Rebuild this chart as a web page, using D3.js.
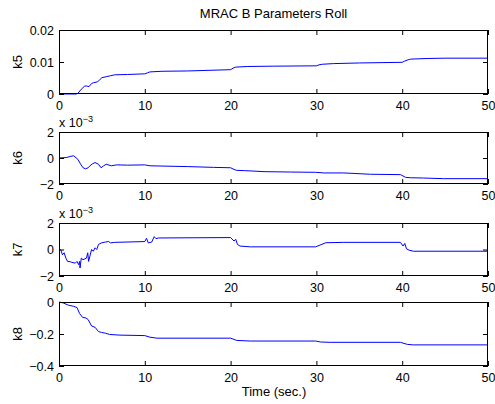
<!DOCTYPE html>
<html><head><meta charset="utf-8">
<script src="https://cdn.jsdelivr.net/npm/d3@7"></script>
<style>
body{margin:0;background:#fff;}
svg{display:block;font-family:"Liberation Sans",Arial,Helvetica,sans-serif;}
</style></head>
<body><svg id="c" width="495" height="404"></svg>
<script>
const title = "MRAC B Parameters Roll";
const xLabel = "Time (sec.)";
const xTicks = [0,10,20,30,40,50];
const panelNames = ["k5","k6","k7","k8"];

const k5Time  = [0,2.0,2.2,2.6,3.0,3.2,3.5,3.8,4.0,4.5,4.8,5.0,5.5,6.0,6.5,8,10,10.3,10.6,12,15,20,20.3,20.6,22,25,30,30.3,30.7,32,35,40,40.3,40.7,41,43,45,50];
const k5Values= [0,0,0.0002,0.0015,0.0025,0.0025,0.0023,0.0033,0.0035,0.0038,0.0046,0.0051,0.0054,0.0057,0.0060,0.0061,0.0063,0.0066,0.0069,0.0071,0.0072,0.0076,0.0081,0.0084,0.0086,0.0087,0.0088,0.0091,0.0093,0.0095,0.0097,0.0099,0.0103,0.0107,0.0109,0.0111,0.0112,0.0112];

const k6Time  = [0,0.9,1.3,1.7,2.2,2.5,2.8,3.1,3.4,3.6,3.9,4.2,4.6,4.9,5.2,5.5,6.1,6.7,8,10,10.6,12,15,18,20,20.4,20.7,21.6,23.9,27,29.9,30.9,33.2,36.3,39.8,40.4,41,42.5,44.8,50];
const k6Values= [0,0.04,0.12,0.17,-0.1,-0.45,-0.75,-0.83,-0.75,-0.6,-0.45,-0.35,-0.48,-0.75,-0.6,-0.48,-0.6,-0.53,-0.55,-0.53,-0.6,-0.62,-0.66,-0.72,-0.75,-0.88,-0.95,-0.97,-1.05,-1.08,-1.1,-1.15,-1.15,-1.25,-1.28,-1.49,-1.52,-1.54,-1.59,-1.59];

const k7Time  = [0,0.23,0.4,0.6,0.8,1.0,1.3,1.5,1.9,2.1,2.3,2.4,2.45,2.6,2.8,3.2,3.35,3.45,3.6,3.8,4.0,4.2,4.4,4.6,4.95,5.4,5.8,6.0,6.5,10,10.2,10.4,10.8,11.1,11.3,11.6,20,20.4,20.6,20.8,21.1,22.3,29.9,30.3,31.1,33.2,39.8,40.1,40.3,40.5,40.8,41.3,50];
const k7Values= [0.05,-0.05,-0.4,-0.25,-0.65,-0.9,-0.92,-0.97,-1.03,-0.9,-1.15,-0.9,-1.4,-0.65,-0.77,-0.65,-0.25,-0.9,-0.5,0,-0.13,0.13,0,0.38,0.5,0.56,0.6,0.5,0.54,0.6,0.85,0.5,0.56,0.97,0.82,0.87,0.9,0.64,0.77,0.38,0.26,0.2,0.2,0.3,0.51,0.54,0.54,0.26,0.46,0.05,-0.05,-0.13,-0.13];

const k8Time  = [0,0.5,1.1,1.7,2.1,2.4,2.75,3.15,3.4,3.8,4.2,4.6,4.95,5.4,5.9,7.1,10,10.6,11.4,20,20.7,22.3,29.9,30.5,31.6,39.8,40.6,41.3,50];
const k8Values= [0,-0.006,-0.02,-0.027,-0.035,-0.072,-0.096,-0.1,-0.11,-0.15,-0.158,-0.185,-0.19,-0.195,-0.203,-0.207,-0.21,-0.22,-0.226,-0.226,-0.24,-0.244,-0.244,-0.25,-0.252,-0.252,-0.265,-0.268,-0.268];

const yDomains = [[0,0.02],[-2,2],[-2,2],[-0.4,0]];
const yTicks = [[0,0.01,0.02],[-2,0,2],[-2,0,2],[-0.4,-0.2,0]];
const yTickLabels = [["0","0.01","0.02"],["\u22122","0","2"],["\u22122","0","2"],["\u22120.4","\u22120.2","0"]];
const exponentLabels = [null,"\u22123","\u22123",null];

const series = [[k5Time,k5Values],[k6Time,k6Values],[k7Time,k7Values],[k8Time,k8Values]];

const svg = d3.select("#c");
const left = 59, right = 488;
const panelTops = [30,132,223,302];
const panelBottoms = [94,184,276,366];
const fs = 12.5, tickLen = 5;

const x = d3.scaleLinear().domain([0,50]).range([left,right]);

svg.append("text").attr("x",273.5).attr("y",18).attr("text-anchor","middle")
  .attr("font-size",13).text(title);

panelNames.forEach((name,i)=>{
  const top = panelTops[i], bot = panelBottoms[i];
  const y = d3.scaleLinear().domain(yDomains[i]).range([bot,top]);
  const g = svg.append("g");
  const [ts,vs] = series[i];
  const pts = ts.map((t,j)=>[t,vs[j]]);
  g.append("path").datum(pts)
    .attr("fill","none").attr("stroke","#0000ff").attr("stroke-width",1)
    .attr("d", d3.line().x(d=>x(d[0])).y(d=>y(d[1])));
  const xb = d3.axisBottom(x).tickValues(xTicks).tickSize(-tickLen).tickPadding(7).tickFormat(d3.format("d"));
  const xt = d3.axisTop(x).tickValues(xTicks).tickSize(-tickLen).tickFormat("");
  const yl = d3.axisLeft(y).tickValues(yTicks[i]).tickSize(-tickLen).tickPadding(5)
    .tickFormat((d,k)=>yTickLabels[i][k]);
  const yr = d3.axisRight(y).tickValues(yTicks[i]).tickSize(-tickLen).tickFormat("");
  const ax = [
    g.append("g").attr("transform",`translate(0,${bot})`).call(xb),
    g.append("g").attr("transform",`translate(0,${top})`).call(xt),
    g.append("g").attr("transform",`translate(${left},0)`).call(yl),
    g.append("g").attr("transform",`translate(${right},0)`).call(yr)
  ];
  ax.forEach(a=>{
    a.select(".domain").remove();
    a.selectAll("line").attr("stroke","#000").attr("stroke-width",1);
    a.selectAll("text").attr("font-size",fs).attr("font-family","Liberation Sans,Arial,sans-serif").attr("fill","#000");
  });
  g.append("rect").attr("x",left+0.5).attr("y",top+0.5).attr("width",right-left-1).attr("height",bot-top-1)
    .attr("fill","none").attr("stroke","#000").attr("stroke-width",1);
  g.append("text").attr("transform",`translate(21.5,${(top+bot)/2}) rotate(-90)`)
    .attr("text-anchor","middle").attr("font-size",13).text(name);
  if (exponentLabels[i]) {
    const t = g.append("text").attr("x",left).attr("y",top-5).attr("font-size",fs);
    t.append("tspan").text("x 10");
    t.append("tspan").attr("dy",-5).attr("font-size",9).text(exponentLabels[i]);
  }
});

svg.append("text").attr("x",274).attr("y",396).attr("text-anchor","middle")
  .attr("font-size",13).text(xLabel);
</script></body></html>
